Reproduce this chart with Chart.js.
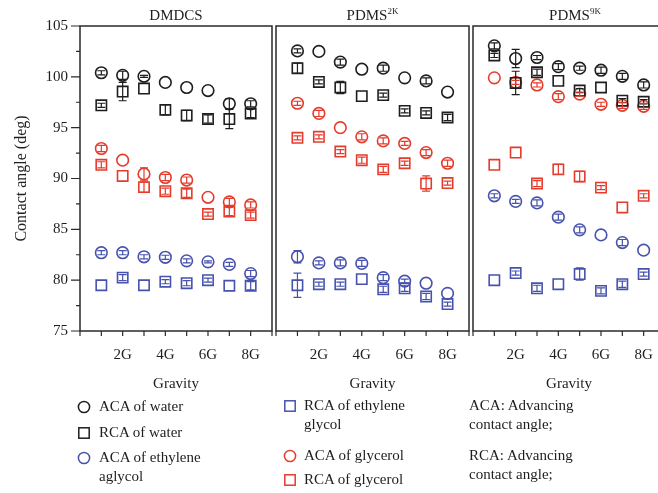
<!DOCTYPE html>
<html>
<head>
<meta charset="utf-8">
<script src="https://cdn.jsdelivr.net/npm/chart.js@4.4.1/dist/chart.umd.min.js"></script>
<style>
html, body { margin: 0; padding: 0; width: 658px; height: 493px; overflow: hidden; background: #fff; }
body { position: relative; font-family: 'Liberation Serif', serif; font-size: 15px; color: #1e1e1e; }
canvas { position: absolute; top: 0; }
.lg { position: absolute; line-height: 19px; white-space: nowrap; }
svg.mk { position: absolute; overflow: visible; }
</style>
</head>
<body>
<canvas id="dmdcs" width="274" height="400" style="left:0"></canvas>
<canvas id="pdms2k" width="197" height="400" style="left:274px"></canvas>
<canvas id="pdms9k" width="196" height="400" style="left:471px"></canvas>

<svg class="mk" width="14" height="14" style="left:77px; top:400px"><circle cx="7" cy="7" r="5.6" fill="none" stroke="#1e1e1e" stroke-width="1.5"/></svg>
<div class="lg" style="left:99px; top:397px">ACA of water</div>
<svg class="mk" width="14" height="14" style="left:77px; top:426px"><rect x="1.8" y="1.8" width="10.4" height="10.4" fill="none" stroke="#1e1e1e" stroke-width="1.5"/></svg>
<div class="lg" style="left:99px; top:423px">RCA of water</div>
<svg class="mk" width="14" height="14" style="left:77px; top:451px"><circle cx="7" cy="7" r="5.6" fill="none" stroke="#4652ad" stroke-width="1.5"/></svg>
<div class="lg" style="left:99px; top:448px">ACA of ethylene<br>aglycol</div>

<svg class="mk" width="14" height="14" style="left:283px; top:399px"><rect x="1.8" y="1.8" width="10.4" height="10.4" fill="none" stroke="#4652ad" stroke-width="1.5"/></svg>
<div class="lg" style="left:304px; top:396px">RCA of ethylene<br>glycol</div>
<svg class="mk" width="14" height="14" style="left:283px; top:449px"><circle cx="7" cy="7" r="5.6" fill="none" stroke="#e53b2c" stroke-width="1.5"/></svg>
<div class="lg" style="left:304px; top:446px">ACA of glycerol</div>
<svg class="mk" width="14" height="14" style="left:283px; top:473px"><rect x="1.8" y="1.8" width="10.4" height="10.4" fill="none" stroke="#e53b2c" stroke-width="1.5"/></svg>
<div class="lg" style="left:304px; top:470px">RCA of glycerol</div>

<div class="lg" style="left:469px; top:396px">ACA: Advancing<br>contact angle;</div>
<div class="lg" style="left:469px; top:446px">RCA: Advancing<br>contact angle;</div>

<script>
// gravity levels (x) and axis ticks
const gravity_levels = [1, 2, 3, 4, 5, 6, 7, 8];
const gravity_labels = { 2: '2G', 4: '4G', 6: '6G', 8: '8G' };
const angle_labels = [75, 80, 85, 90, 95, 100, 105];

// DMDCS
const dmdcs_aca_water = [100.4, 100.15, 100.05, 99.45, 98.95, 98.65, 97.35, 97.35];
const dmdcs_aca_water_err = [0.2, 0.4, 0.1, 0, 0, 0, 0.5, 0.3];
const dmdcs_rca_water = [97.2, 98.55, 98.85, 96.75, 96.2, 95.85, 95.85, 96.4];
const dmdcs_rca_water_err = [0.2, 0.9, 0, 0.5, 0.5, 0.4, 0.95, 0.4];
const dmdcs_aca_eg = [82.7, 82.7, 82.3, 82.25, 81.9, 81.8, 81.55, 80.65];
const dmdcs_aca_eg_err = [0.2, 0.2, 0.2, 0.2, 0.2, 0.1, 0.2, 0.3];
const dmdcs_rca_eg = [79.5, 80.25, 79.5, 79.85, 79.7, 80.0, 79.45, 79.45];
const dmdcs_rca_eg_err = [0, 0.3, 0, 0.2, 0.25, 0.2, 0, 0.4];
const dmdcs_aca_gly = [92.95, 91.8, 90.45, 90.1, 89.85, 88.15, 87.7, 87.4];
const dmdcs_aca_gly_err = [0.3, 0, 0.6, 0.3, 0.3, 0, 0.35, 0.3];
const dmdcs_rca_gly = [91.35, 90.25, 89.15, 88.75, 88.55, 86.5, 86.75, 86.4];
const dmdcs_rca_gly_err = [0.3, 0, 0.5, 0.3, 0.4, 0.2, 0.4, 0.3];

// PDMS 2K
const pdms2k_aca_water = [102.55, 102.5, 101.45, 100.75, 100.85, 99.9, 99.6, 98.5];
const pdms2k_aca_water_err = [0.2, 0, 0.3, 0, 0.3, 0, 0.3, 0];
const pdms2k_rca_water = [100.85, 99.5, 98.95, 98.1, 98.2, 96.65, 96.45, 96.0];
const pdms2k_rca_water_err = [0.5, 0.2, 0.6, 0, 0.2, 0.2, 0.2, 0.3];
const pdms2k_aca_eg = [82.3, 81.7, 81.7, 81.65, 80.25, 79.9, 79.7, 78.7];
const pdms2k_aca_eg_err = [0.6, 0.2, 0.3, 0.3, 0.3, 0.2, 0, 0];
const pdms2k_rca_eg = [79.5, 79.6, 79.6, 80.1, 79.1, 79.2, 78.4, 77.65];
const pdms2k_rca_eg_err = [1.2, 0.2, 0.2, 0, 0.3, 0.3, 0.3, 0.2];
const pdms2k_aca_gly = [97.4, 96.4, 95.0, 94.1, 93.7, 93.45, 92.55, 91.5];
const pdms2k_aca_gly_err = [0.2, 0.3, 0, 0.3, 0.3, 0.2, 0.3, 0.3];
const pdms2k_rca_gly = [94.0, 94.1, 92.65, 91.8, 90.9, 91.5, 89.5, 89.55];
const pdms2k_rca_gly_err = [0.2, 0.2, 0.2, 0.3, 0.3, 0.2, 0.75, 0.2];

// PDMS 9K
const pdms9k_aca_water = [103.05, 101.8, 101.9, 101.0, 100.85, 100.65, 100.05, 99.2];
const pdms9k_aca_water_err = [0.3, 0.9, 0.2, 0.3, 0.2, 0.3, 0.3, 0.3];
const pdms9k_rca_water = [102.1, 99.4, 100.45, 99.6, 98.65, 98.95, 97.65, 97.55];
const pdms9k_rca_water_err = [0.2, 1.15, 0.3, 0, 0.2, 0, 0.2, 0.2];
const pdms9k_aca_eg = [88.3, 87.75, 87.6, 86.2, 84.95, 84.45, 83.7, 82.95];
const pdms9k_aca_eg_err = [0.2, 0.2, 0.3, 0.3, 0.3, 0, 0.3, 0];
const pdms9k_rca_eg = [80.0, 80.7, 79.2, 79.6, 80.6, 78.95, 79.6, 80.6];
const pdms9k_rca_eg_err = [0, 0.2, 0.3, 0, 0.6, 0.3, 0.3, 0.2];
const pdms9k_aca_gly = [99.9, 99.45, 99.2, 98.05, 98.3, 97.3, 97.2, 97.1];
const pdms9k_aca_gly_err = [0, 0.2, 0.2, 0.3, 0.2, 0.2, 0.3, 0.3];
const pdms9k_rca_gly = [91.35, 92.55, 89.5, 90.9, 90.2, 89.1, 87.15, 88.3];
const pdms9k_rca_gly_err = [0, 0, 0.3, 0.5, 0.5, 0.2, 0, 0.2];

const BLACK = '#1e1e1e';
const RED = '#e53b2c';
const BLUE = '#4652ad';
const SERIF = "'Liberation Serif', 'DejaVu Serif', serif";

Chart.defaults.font.family = SERIF;
Chart.defaults.font.size = 15;
Chart.defaults.color = BLACK;

const error_bar_plugin = {
    id: 'errorBars',
    afterDatasetsDraw(chart) {
        const ctx = chart.ctx;
        const ys = chart.scales.y;
        chart.data.datasets.forEach((ds, i) => {
            const meta = chart.getDatasetMeta(i);
            ctx.save();
            ctx.strokeStyle = ds.borderColor;
            ctx.lineWidth = 1.2;
            ctx.beginPath();
            meta.data.forEach((pt, j) => {
                const e = ds.errors[j];
                if (!e) {
                    return;
                }
                const v = ds.data[j].y;
                const top = ys.getPixelForValue(v + e);
                const bot = ys.getPixelForValue(v - e);
                ctx.moveTo(pt.x, top);
                ctx.lineTo(pt.x, bot);
                ctx.moveTo(pt.x - 4, top);
                ctx.lineTo(pt.x + 4, top);
                ctx.moveTo(pt.x - 4, bot);
                ctx.lineTo(pt.x + 4, bot);
            });
            ctx.stroke();
            ctx.restore();
        });
    }
};

// box around the plot, tick marks and the panel title
const frame_plugin = {
    id: 'frame',
    afterDraw(chart, args, opts) {
        const ctx = chart.ctx;
        const a = chart.chartArea;
        ctx.save();
        ctx.strokeStyle = '#2a2a2a';
        ctx.lineWidth = 1.5;
        ctx.strokeRect(a.left, a.top, a.right - a.left, a.bottom - a.top);
        ctx.lineWidth = 1.2;
        ctx.beginPath();
        const xs = chart.scales.x;
        xs.ticks.forEach(t => {
            const px = xs.getPixelForValue(t.value);
            ctx.moveTo(px, a.bottom);
            ctx.lineTo(px, a.bottom + 5);
        });
        if (opts.yTicks) {
            const ys = chart.scales.y;
            ys.ticks.forEach(t => {
                const py = ys.getPixelForValue(t.value);
                const len = angle_labels.includes(t.value) ? 9 : 4;
                ctx.moveTo(a.left, py);
                ctx.lineTo(a.left - len, py);
            });
        }
        ctx.stroke();

        // title with optional superscript
        const cx = (a.left + a.right) / 2 + (opts.dx || 0);
        ctx.fillStyle = BLACK;
        ctx.textBaseline = 'alphabetic';
        ctx.font = '15px ' + SERIF;
        const w_main = ctx.measureText(opts.main).width;
        ctx.font = '9px ' + SERIF;
        const w_sup = opts.sup ? ctx.measureText(opts.sup).width : 0;
        const x0 = cx - (w_main + w_sup) / 2;
        ctx.font = '15px ' + SERIF;
        ctx.fillText(opts.main, x0, 20);
        if (opts.sup) {
            ctx.font = '9px ' + SERIF;
            ctx.fillText(opts.sup, x0 + w_main, 14);
        }
        ctx.restore();
    }
};

const series_styles = [
    { key: 'aca_water', label: 'ACA of water', color: BLACK, shape: 'circle' },
    { key: 'rca_water', label: 'RCA of water', color: BLACK, shape: 'rect' },
    { key: 'aca_eg', label: 'ACA of ethylene aglycol', color: BLUE, shape: 'circle' },
    { key: 'rca_eg', label: 'RCA of ethylene glycol', color: BLUE, shape: 'rect' },
    { key: 'aca_gly', label: 'ACA of glycerol', color: RED, shape: 'circle' },
    { key: 'rca_gly', label: 'RCA of glycerol', color: RED, shape: 'rect' }
];

function build_datasets(values, errors) {
    return series_styles.map((s, k) => ({
        label: s.label,
        data: gravity_levels.map((g, i) => ({ x: g, y: values[k][i] })),
        errors: errors[k],
        pointStyle: s.shape,
        pointRadius: s.shape === 'rect' ? 7.3 : 5.8,
        pointBorderWidth: 1.6,
        borderColor: s.color,
        backgroundColor: 'rgba(0,0,0,0)',
        showLine: false
    }));
}

function make_panel(canvas_id, values, errors, title, show_y) {
    const config = {
        type: 'scatter',
        data: { datasets: build_datasets(values, errors) },
        options: {
            responsive: false,
            animation: false,
            events: [],
            layout: {
                autoPadding: false,
                padding: { top: 26, left: show_y ? 0 : 2, right: 2, bottom: 0 }
            },
            plugins: {
                legend: { display: false },
                tooltip: { enabled: false },
                frame: { main: title.main, sup: title.sup, dx: title.dx, yTicks: show_y }
            },
            scales: {
                x: {
                    type: 'linear',
                    min: 0,
                    max: 9,
                    grid: { display: false, drawTicks: false },
                    border: { display: false },
                    ticks: {
                        stepSize: 1,
                        autoSkip: false,
                        maxRotation: 0,
                        padding: 15,
                        callback: v => gravity_labels[v] || ''
                    },
                    title: {
                        display: true,
                        text: 'Gravity',
                        padding: { top: 4, bottom: 7 }
                    },
                    afterFit: scale => {
                        scale.height = 69;
                        scale.paddingLeft = 0;
                        scale.paddingRight = 0;
                    }
                },
                y: {
                    display: show_y,
                    min: 75,
                    max: 105,
                    grid: { display: false, drawTicks: false },
                    border: { display: false },
                    ticks: {
                        stepSize: 2.5,
                        autoSkip: false,
                        padding: 12,
                        callback: v => angle_labels.includes(v) ? v : ''
                    },
                    title: {
                        display: true,
                        text: 'Contact angle (deg)',
                        font: { size: 16 },
                        padding: { top: 12, bottom: 0 }
                    },
                    afterFit: scale => {
                        scale.width = show_y ? 80 : 0;
                        scale.paddingTop = 0;
                        scale.paddingBottom = 0;
                    }
                }
            }
        },
        plugins: [error_bar_plugin, frame_plugin]
    };
    return new Chart(document.getElementById(canvas_id), config);
}

make_panel('dmdcs',
    [dmdcs_aca_water, dmdcs_rca_water, dmdcs_aca_eg, dmdcs_rca_eg, dmdcs_aca_gly, dmdcs_rca_gly],
    [dmdcs_aca_water_err, dmdcs_rca_water_err, dmdcs_aca_eg_err, dmdcs_rca_eg_err, dmdcs_aca_gly_err, dmdcs_rca_gly_err],
    { main: 'DMDCS' }, true);
make_panel('pdms2k',
    [pdms2k_aca_water, pdms2k_rca_water, pdms2k_aca_eg, pdms2k_rca_eg, pdms2k_aca_gly, pdms2k_rca_gly],
    [pdms2k_aca_water_err, pdms2k_rca_water_err, pdms2k_aca_eg_err, pdms2k_rca_eg_err, pdms2k_aca_gly_err, pdms2k_rca_gly_err],
    { main: 'PDMS', sup: '2K' }, false);
make_panel('pdms9k',
    [pdms9k_aca_water, pdms9k_rca_water, pdms9k_aca_eg, pdms9k_rca_eg, pdms9k_aca_gly, pdms9k_rca_gly],
    [pdms9k_aca_water_err, pdms9k_rca_water_err, pdms9k_aca_eg_err, pdms9k_rca_eg_err, pdms9k_aca_gly_err, pdms9k_rca_gly_err],
    { main: 'PDMS', sup: '9K', dx: 6 }, false);
</script>
</body>
</html>
